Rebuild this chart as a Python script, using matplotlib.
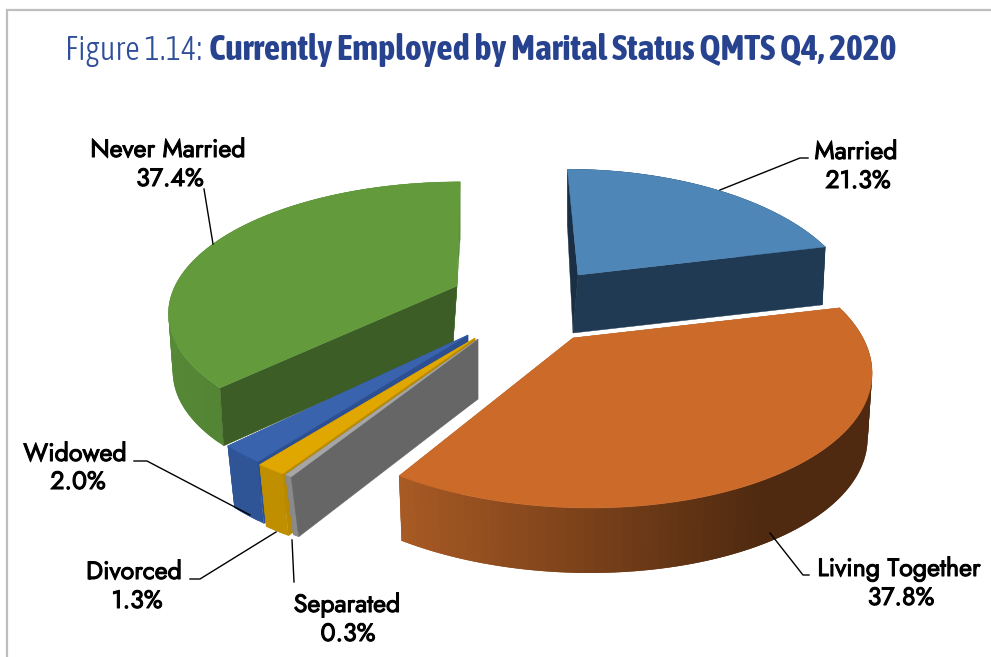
import numpy as np
import matplotlib
matplotlib.use("Agg")
import matplotlib.pyplot as plt
import matplotlib.patheffects as pe
from matplotlib.colors import to_rgb
import logging
logging.getLogger("matplotlib.font_manager").setLevel(logging.ERROR)

categories = ["Married", "Living Together", "Separated", "Divorced", "Widowed", "Never Married"]
values = [21.3, 37.8, 0.3, 1.3, 2.0, 37.4]
title_light = "Figure 1.14:"
title_bold = "Currently Employed by Marital Status QMTS Q4, 2020"

K = 0.2       # perspective

# per-slice: apex x, apex y, rx, ry, depth, apex shift of lower face, shear, depth scale
geom = {
    "Married":         (578, 275, 269, 127, 58, -5, 0.10, 0.988),
    "Living Together": (573, 338, 290, 136, 65, 0, 0.10, 0.985),
    "Separated":       (478, 339, 310, 136, 60, 0, 0.10, 0.96),
    "Divorced":        (475, 338, 310, 136, 62, 0, 0.10, 0.97),
    "Widowed":         (468, 335, 303, 136, 62, 0, 0.10, 0.972),
    "Never Married":   (457, 286, 282, 125, 58, -4, -0.03, 0.985),
}
# top, outer wall near colour, outer wall far colour, face at slice start, face at slice end
colors = {
    "Married":         ("#4f86b8", "#1f3a52", "#1f3a52", "#1a2f44", "#1f3a52"),
    "Living Together": ("#cc6b29", "#a85a24", "#4f2a10", "#a85a24", "#a85a24"),
    "Separated":       ("#a6a6a6", "#8a8a8a", "#8a8a8a", "#666666", "#808080"),
    "Divorced":        ("#e0a700", "#bf8f00", "#bf8f00", "#b88a00", "#bf8f00"),
    "Widowed":         ("#3a63ae", "#2f5597", "#2f5597", "#2b4f90", "#2f5597"),
    "Never Married":   ("#629a3c", "#5a8f3a", "#538534", "#3c5d26", "#558a35"),
}
paint_sequence = {
    "Married": ("wall", "face1", "face0"),
    "Living Together": ("face0", "face1", "wall"),
    "Separated": ("face1", "wall", "face0"),
    "Divorced": ("face1", "wall", "face0"),
    "Widowed": ("face1", "wall", "face0"),
    "Never Married": ("face1", "wall", "face0"),
}
draw_order = ["Never Married", "Widowed", "Divorced", "Separated", "Living Together", "Married"]

labels_pos = {
    "Married": ((856, 152), (858, 181)),
    "Living Together": ((899, 569), (901, 598)),
    "Separated": ((347, 605), (348, 634)),
    "Divorced": ((134, 572), (137, 601)),
    "Widowed": ((75, 454), (78, 482)),
    "Never Married": ((168, 150), (170, 179)),
}
leaders = {
    "Married": [(720, 190), (800, 158), (808, 158)],
    "Living Together": [(770, 533), (803, 575), (809, 575)],
    "Separated": [(292, 540), (294, 582)],
    "Divorced": [(276, 532), (200, 579), (190, 579)],
    "Widowed": [(250, 515), (147, 461), (134, 461)],
    "Never Married": [(204, 189), (213, 244)],
}

fig = plt.figure(figsize=(9.91, 6.57), dpi=100)
ax = fig.add_axes([0, 0, 1, 1])
ax.set_xlim(0, 991)
ax.set_ylim(657, 0)
ax.axis("off")

ax.plot([7, 7, 991], [657, 10, 10], color="#bcbec0", lw=1.6, solid_joinstyle="miter")


def project(name, t):
    cx, cy, rx, ry, d, a, s, ds = geom[name]
    u, v = np.sin(t), np.cos(t)
    w = 1 + K * v
    y = -ry * v / w
    x = rx * u / w + s * y
    return cx + x, cy + y


def mix(c1, c2, f):
    a, b = np.array(to_rgb(c1)), np.array(to_rgb(c2))
    return tuple(a + (b - a) * f)


total = sum(values)
edges = np.concatenate([[0], np.cumsum(values)]) / total * 2 * np.pi
spans = {c: (edges[i], edges[i + 1]) for i, c in enumerate(categories)}

for name in draw_order:
    t0, t1 = spans[name]
    top, wall_a, wall_b, face0, face1 = colors[name]
    cx, cy, rx, ry, d, a, s, ds = geom[name]
    n = max(6, int((t1 - t0) / np.pi * 180 / 1.5))
    ts = np.linspace(t0, t1, n + 1)
    xs, ys = project(name, ts)
    bx, by = cx + (xs - cx) * ds, ys + d
    abx, aby = cx + a, cy + d
    for part in paint_sequence[name]:
        if part == "wall":
            for i in range(n):
                if name == "Living Together":
                    f = np.clip(((xs[i] + xs[i + 1]) / 2 - 400.0) / 360.0, 0, 1)
                elif name == "Never Married":
                    f = 1 - np.clip((ts[i] - np.pi * 1.25) / (np.pi * 0.4), 0, 1)
                else:
                    f = 0
                col = mix(wall_a, wall_b, f)
                j = min(i + 2, n)
                ax.fill([xs[i], xs[j], bx[j], bx[i]], [ys[i], ys[j], by[j], by[i]],
                        color=col, lw=0, zorder=1)
        elif part == "face0":
            ax.fill([xs[0], cx, abx, bx[0]], [ys[0], cy, aby, by[0]], color=face0, lw=0.3, zorder=1)
        else:
            ax.fill([xs[-1], cx, abx, bx[-1]], [ys[-1], cy, aby, by[-1]], color=face1, lw=0.3, zorder=1)
    ax.fill(np.r_[cx, xs], np.r_[cy, ys], color=top, lw=0.3, zorder=1)

label_font = ["Jost", "Lato", "DejaVu Sans"]
heavier = [pe.withStroke(linewidth=0.75, foreground="black")]
for name, value in zip(categories, values):
    p1, p2 = labels_pos[name]
    ax.text(p1[0], p1[1], name, ha="center", va="center", family=label_font, weight=600,
            fontsize=18, color="black", zorder=3, path_effects=heavier)
    ax.text(p2[0], p2[1], f"{value:.1f}%", ha="center", va="center", family=label_font, weight=600,
            fontsize=18, color="black", zorder=3, path_effects=heavier)
    pts = np.array(leaders[name])
    ax.plot(pts[:, 0], pts[:, 1], color="black", lw=1.0, zorder=2)

title_font = ["Asap Condensed", "Liberation Sans"]
ax.text(65, 60, title_light, family=title_font, weight=300, fontsize=23.5, color="#2f4f9b", va="baseline")
ax.text(209, 60, title_bold, family=title_font, weight=700, fontsize=25.8, color="#27428f", va="baseline")

fig.savefig("out.png", dpi=100, facecolor="white")
